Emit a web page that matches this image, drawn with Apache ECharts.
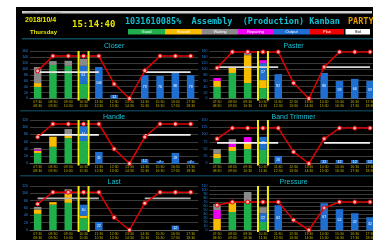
<!DOCTYPE html>
<html>
<head>
<meta charset="utf-8">
<script src="https://cdn.jsdelivr.net/npm/echarts@6/dist/echarts.min.js"></script>
<style>
  html, body { margin: 0; padding: 0; background: #fff; overflow: hidden; width: 373px; height: 240px; }
  #board { position: absolute; left: 16px; top: 7px; width: 372px; height: 233px; background: #000; }
</style>
</head>
<body>
<div id="board"></div>
<script>
// hourly slots on every x axis
var slots = ['07:30\n08:30', '08:30\n09:30', '09:30\n10:30', '10:30\n11:30', '11:30\n12:30', '12:30\n13:30',
             '13:30\n14:30', '14:30\n15:30', '15:30\n16:30', '16:30\n17:30', '17:30\n18:30'];
var currentSlot = 3;
var lineNames = ['Closer', 'Paster', 'Handle', 'Band Trimmer', 'Last', 'Pressure'];
var legendNames = ['Good', 'Rework', 'Waiting', 'Repairing', 'Output', 'Plan', 'Std'];

// Closer
var closerGood    = [39, 113, 110, 49, 0, 0, 0, 0, 0, 0, 0];
var closerRework  = [13, 0, 0, 0, 0, 0, 0, 0, 0, 0, 0];
var closerOutput  = [0, 0, 0, 61, 106, 12, 0, 79, 76, 86, 79];
var closerRepair  = [0, 0, 0, 0, 0, 0, 0, 0, 0, 0, 0];
var closerWaiting = [54, 13, 17, 24, 0, 0, 0, 0, 0, 0, 0];
var closerPlan    = [93, 143, 143, 143, 143, 49, 0, 94, 143, 143, 143];
var closerStd     = [89, 89, 89, 89, 89, null, null, 89, 89, 89, 89];

// Paster
var pasterGood    = [39, 86, 52, 35, 0, 0, 0, 0, 0, 0, 0];
var pasterRework  = [20, 17, 94, 27, 0, 0, 0, 0, 0, 0, 0];
var pasterOutput  = [0, 0, 0, 57, 82, 0, 0, 86, 59, 66, 59];
var pasterRepair  = [10, 0, 0, 10, 0, 0, 0, 0, 0, 0, 0];
var pasterWaiting = [0, 0, 7, 0, 0, 0, 0, 0, 0, 0, 0];
var pasterPlan    = [103, 157, 157, 157, 157, 52, 0, 106, 157, 157, 157];
var pasterStd     = [106, 106, 106, 106, 106, null, null, 106, 106, 106, 106];

// Handle
var handleGood    = [29, 46, 70, 62, 0, 0, 0, 0, 0, 0, 0];
var handleRework  = [6, 28, 6, 0, 0, 0, 0, 0, 0, 0, 0];
var handleOutput  = [0, 0, 0, 41, 32, 0, 0, 12, 7, 29, 7];
var handleRepair  = [4, 0, 0, 0, 0, 0, 0, 0, 0, 0, 0];
var handleWaiting = [4, 0, 19, 0, 0, 0, 0, 0, 0, 0, 0];
var handlePlan    = [73, 109, 109, 109, 109, 40, 0, 73, 109, 109, 109];
var handleStd     = [79, 79, 79, 79, 79, null, null, 79, 79, 79, 79];

// Band Trimmer
var bandGood    = [19, 43, 50, 47, 0, 0, 0, 0, 0, 0, 0];
var bandRework  = [14, 14, 24, 0, 0, 0, 0, 0, 0, 0, 0];
var bandOutput  = [0, 0, 0, 45, 26, 0, 0, 12, 12, 12, 12];
var bandRepair  = [0, 17, 17, 0, 0, 0, 0, 0, 0, 0, 0];
var bandWaiting = [17, 10, 0, 0, 0, 0, 0, 0, 0, 0, 0];
var bandPlan    = [85, 122, 122, 122, 122, 40, 0, 85, 122, 122, 122];
var bandStd     = [71, 71, 71, 71, 71, null, null, 71, 71, 71, 71];

// Last
var lastGood    = [44, 69, 74, 32, 0, 0, 0, 0, 0, 0, 0];
var lastRework  = [12, 7, 25, 7, 0, 0, 0, 0, 0, 0, 0];
var lastOutput  = [0, 0, 0, 30, 22, 0, 0, 0, 0, 12, 0];
var lastRepair  = [0, 0, 7, 0, 0, 0, 0, 0, 0, 0, 0];
var lastWaiting = [7, 0, 5, 0, 0, 0, 0, 0, 0, 0, 0];
var lastPlan    = [71, 103, 103, 103, 103, 34, 0, 73, 103, 103, 103];
var lastStd     = [86, 86, 86, 86, 86, null, null, 86, 86, 86, 86];

// Pressure
var pressGood    = [0, 45, 70, 20, 0, 0, 0, 0, 0, 0, 0];
var pressRework  = [28, 25, 0, 0, 0, 0, 0, 0, 0, 0, 0];
var pressOutput  = [0, 0, 0, 22, 62, 0, 0, 67, 52, 42, 32];
var pressRepair  = [22, 0, 0, 0, 0, 0, 0, 0, 0, 0, 0];
var pressWaiting = [15, 0, 25, 15, 0, 0, 0, 0, 0, 0, 0];
var pressPlan    = [62, 70, 70, 70, 70, 25, 0, 55, 70, 70, 70];
var pressStd     = [null, null, null, null, null, null, null, null, null, null, null];

var yMax      = [160, 160, 120, 150, 120, 110];
var yInterval = [20, 20, 20, 25, 20, 10];

var panels = [
  [closerGood, closerRework, closerOutput, closerRepair, closerWaiting, closerPlan, closerStd],
  [pasterGood, pasterRework, pasterOutput, pasterRepair, pasterWaiting, pasterPlan, pasterStd],
  [handleGood, handleRework, handleOutput, handleRepair, handleWaiting, handlePlan, handleStd],
  [bandGood, bandRework, bandOutput, bandRepair, bandWaiting, bandPlan, bandStd],
  [lastGood, lastRework, lastOutput, lastRepair, lastWaiting, lastPlan, lastStd],
  [pressGood, pressRework, pressOutput, pressRepair, pressWaiting, pressPlan, pressStd]
];

var colors = ['#1fb04c', '#f8bb00', '#1f6fd2', '#f000f0', '#8a8a8a'];
var stdColors = ['#e6e6e6', '#d6d6d6', '#f2f2f2', '#f2f2f2', '#b4b4b4', '#b4b4b4'];

// grid boxes inside the black board
var colLeft = [14, 193.4];
var colWidth = 168.3;
var boxes = [
  { top: 44, height: 47.5 }, { top: 44, height: 47.5 },
  { top: 113, height: 43.5 }, { top: 113, height: 43.5 },
  { top: 179, height: 49 }, { top: 179, height: 44 }
];
var titleY = [39, 39, 110, 110, 175, 175];

var board = echarts.init(document.getElementById('board'));

var grids = [], xAxes = [], yAxes = [], series = [], graphics = [];

panels.forEach(function (p, i) {
  var left = colLeft[i % 2];
  grids.push({ left: left, top: boxes[i].top, width: colWidth, height: boxes[i].height });
  xAxes.push({
    type: 'category', gridIndex: i, data: slots,
    axisLine: { lineStyle: { color: '#666' } },
    axisTick: { show: false },
    axisLabel: { interval: 0, fontSize: 3.5, lineHeight: 4, color: '#c0b400', margin: 2 }
  });
  yAxes.push({
    type: 'value', gridIndex: i, min: 0, max: yMax[i], interval: yInterval[i],
    axisLine: { show: false }, axisTick: { show: false },
    axisLabel: { fontSize: 3.5, color: '#2a86e8', margin: 2 },
    splitLine: { lineStyle: { color: '#3a3a3a', width: 1 } }
  });
  var stackName = 'st' + i;
  for (var k = 0; k < 5; k++) {
    series.push({
      type: 'bar', xAxisIndex: i, yAxisIndex: i, stack: stackName, barWidth: 7.5,
      data: p[k], itemStyle: { color: colors[k] },
      label: k === 2 ? {
        show: true, position: 'inside', fontSize: 3.5, color: '#fff',
        formatter: function (d) { return d.value ? d.value : ''; }
      } : { show: false }
    });
  }
  series.push({
    type: 'line', xAxisIndex: i, yAxisIndex: i, data: p[6], showSymbol: false, connectNulls: false,
    lineStyle: { color: stdColors[i], width: 1.8 }, z: 4
  });
  series.push({
    type: 'line', xAxisIndex: i, yAxisIndex: i, data: p[5], symbol: 'circle', symbolSize: 4,
    lineStyle: { color: '#e00000', width: 1.5 },
    itemStyle: { color: '#ffb4b4', borderColor: '#e00000', borderWidth: 1 }, z: 5
  });
  series.push({
    type: 'custom', xAxisIndex: i, yAxisIndex: i, z: 10, silent: true,
    data: [[currentSlot, 0]],
    renderItem: function (params, api) {
      var c = api.coord([api.value(0), 0]);
      var half = api.size([1, 0])[0] * 0.26;
      var cs = params.coordSys;
      return {
        type: 'group', children: [
          { type: 'rect', shape: { x: c[0] - half - 2, y: cs.y, width: 2, height: cs.height + 2 }, style: { fill: '#f4f400' } },
          { type: 'rect', shape: { x: c[0] + half, y: cs.y, width: 2, height: cs.height + 2 }, style: { fill: '#f4f400' } }
        ]
      };
    }
  });
  graphics.push({
    type: 'text', x: left + colWidth / 2, y: titleY[i],
    style: { text: lineNames[i], fill: '#16c2d4', font: '7px "Liberation Sans"', align: 'center', verticalAlign: 'middle' }
  });
});

// header
graphics.push(
  { type: 'rect', shape: { x: 6, y: 4, width: 350, height: 2.5 }, style: { fill: '#cfcfcf' } },
  { type: 'text', x: 9, y: 5.3, style: { text: 'Production Management System', fill: '#777', font: '2.5px "Liberation Sans"', verticalAlign: 'middle' } },
  { type: 'text', x: 9, y: 13, style: { text: '2018/10/4', fill: '#e6e600', font: 'bold 7px "Liberation Sans"', verticalAlign: 'middle' } },
  { type: 'text', x: 14, y: 25, style: { text: 'Thursday', fill: '#e6e600', font: 'bold 6px "Liberation Sans"', verticalAlign: 'middle' } },
  { type: 'text', x: 56, y: 18, style: { text: '15:14:40', fill: '#e6e600', font: 'bold 9px "DejaVu Sans Mono"', verticalAlign: 'middle' } },
  { type: 'text', x: 109, y: 15, style: { text: '1031610085%  Assembly  (Production) Kanban', fill: '#10bfd0', font: 'bold 8.5px "DejaVu Sans Mono"', verticalAlign: 'middle' } },
  { type: 'text', x: 332, y: 15, style: { text: 'PARTY', fill: '#e49c00', font: 'bold 8.5px "DejaVu Sans Mono"', verticalAlign: 'middle' } },
  { type: 'rect', shape: { x: 6, y: 31, width: 366, height: 1.5 }, style: { fill: '#0f4a5c' } },
  { type: 'rect', shape: { x: 4, y: 103, width: 368, height: 1.5 }, style: { fill: '#0c3a48' } },
  { type: 'rect', shape: { x: 4, y: 168, width: 368, height: 1.5 }, style: { fill: '#0c3a48' } }
);

// colour key under the header
var keyColors = ['#1fb04c', '#f8bb00', '#8a8a8a', '#f000f0', '#1f6fd2', '#f00000', '#ffffff'];
var keyEdges = [112, 149, 186, 222, 257, 294, 329.5, 354];
legendNames.forEach(function (name, j) {
  var x0 = keyEdges[j], x1 = j === 5 ? 328 : keyEdges[j + 1];
  graphics.push(
    { type: 'rect', shape: { x: x0, y: 22, width: x1 - x0, height: 5.5 }, style: { fill: keyColors[j] } },
    { type: 'text', x: (x0 + x1) / 2, y: 24.8, style: { text: name, fill: j === 6 ? '#000' : '#fff', font: '4px "Liberation Sans"', align: 'center', verticalAlign: 'middle' } }
  );
});

board.setOption({
  animation: false,
  backgroundColor: '#000',
  grid: grids,
  xAxis: xAxes,
  yAxis: yAxes,
  series: series,
  graphic: graphics
});
</script>
</body>
</html>
